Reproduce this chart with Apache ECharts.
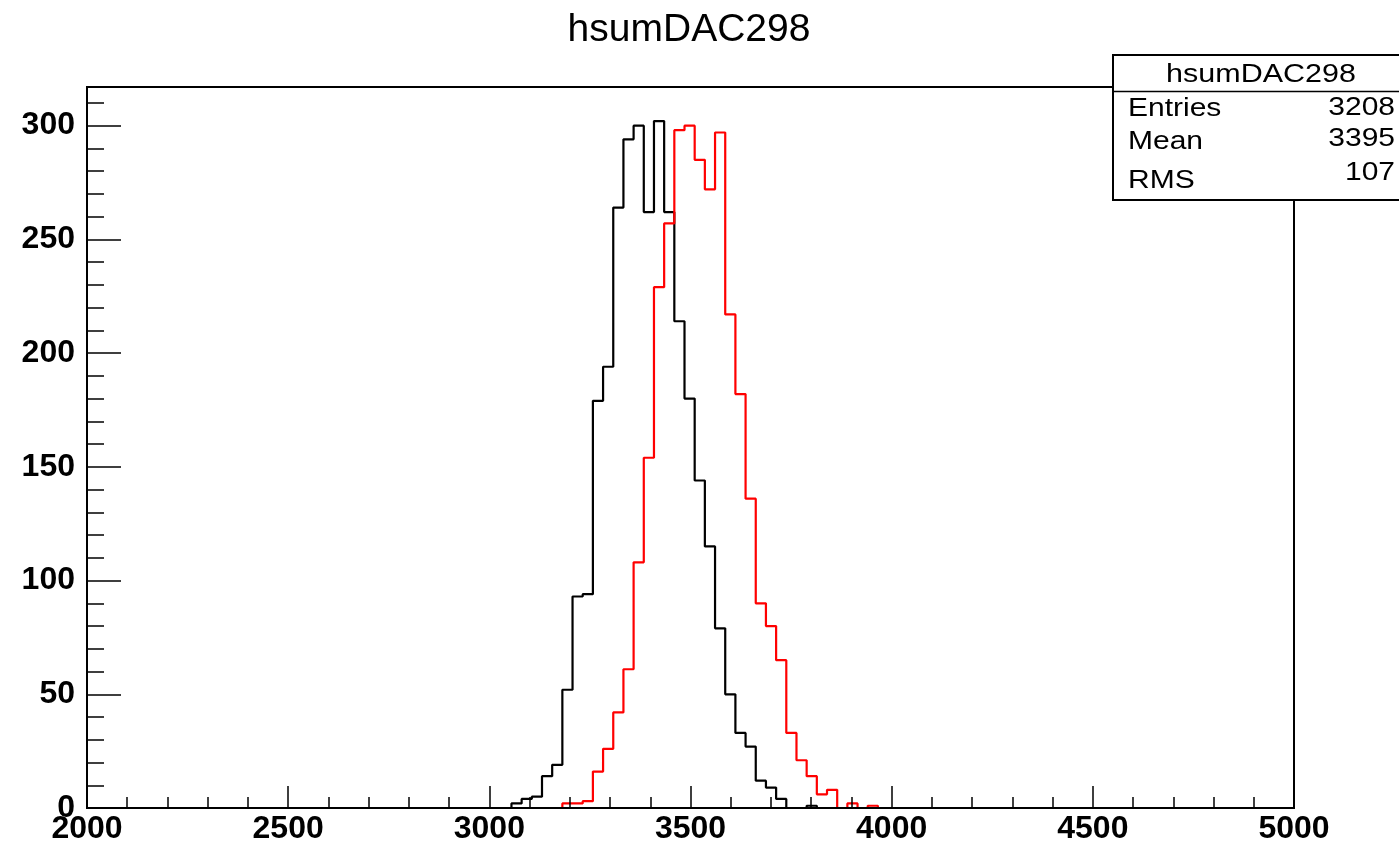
<!DOCTYPE html>
<html>
<head>
<meta charset="utf-8">
<script src="https://cdn.jsdelivr.net/npm/echarts@6/dist/echarts.min.js"></script>
<style>
  html, body { margin: 0; padding: 0; background: #fff; }
  #chart { width: 1399px; height: 845px; }
</style>
</head>
<body>
<div id="chart"></div>
<script>
// ---- data ----
const titleText = 'hsumDAC298';
const xRange = [2000, 5000];
const yMax = 317;
const binStart = 3055;      // lower edge of first non-empty black bin
const binWidth = 25.3;
const redRangeEnd = 4750;   // red histogram's zero line ends here
const blackFirstBin = 0;
const blackCounts = [2, 4, 5, 14, 19, 52, 93, 94, 179, 194, 264, 294, 300, 262, 302, 262,
  214, 180, 144, 115, 79, 50, 33, 27, 12, 9, 4, 0, 0, 1];
const redFirstBin = 5;
const redCounts = [2, 2, 3, 16, 26, 42, 61, 108, 154, 229, 257, 298, 300, 285, 272, 297,
  217, 182, 136, 90, 80, 65, 33, 21, 14, 6, 8, 0, 2, 0, 1];
const statLabels = ['Entries', 'Mean', 'RMS'];
const statValues = ['3208', '3395', '107'];

function histPoints(counts, firstBin, rangeStart, rangeEnd) {
  const first = binStart + firstBin * binWidth;
  const pts = [[rangeStart, 0], [first, 0]];
  counts.forEach((c, i) => {
    const lo = binStart + (firstBin + i) * binWidth;
    const hi = lo + binWidth;
    pts.push([lo, c], [hi, c]);
  });
  const last = binStart + (firstBin + counts.length) * binWidth;
  pts.push([last, 0], [rangeEnd, 0]);
  return pts;
}

const FONT = "'Liberation Sans', Arial, Helvetica, sans-serif";
const chart = echarts.init(document.getElementById('chart'), null, { renderer: 'canvas' });

const gridLeft = 87, gridRight = 105, gridTop = 87, gridBottom = 36;

const statsGraphics = [];
const boxX = 1113, boxY = 55, boxH = 145, sepY = 91.5;
statsGraphics.push({
  type: 'rect', z: 100, shape: { x: boxX, y: boxY, width: 320, height: boxH },
  style: { fill: '#fff', stroke: '#000', lineWidth: 2 }
});
statsGraphics.push({
  type: 'line', z: 101, shape: { x1: boxX, y1: sepY, x2: 1399, y2: sepY },
  style: { stroke: '#000', lineWidth: 1.5 }
});
statsGraphics.push({
  type: 'text', z: 102, x: 1261, y: 75, scaleX: 1.22,
  style: { text: titleText, font: '25px ' + FONT, fill: '#000', align: 'center', verticalAlign: 'middle' }
});
const labelYs = [109, 142, 181];
const valueYs = [108, 139, 173];
statLabels.forEach((t, i) => {
  statsGraphics.push({
    type: 'text', z: 102, x: 1128, y: labelYs[i], scaleX: 1.2,
    style: { text: t, font: '25px ' + FONT, fill: '#000', align: 'left', verticalAlign: 'middle' }
  });
  statsGraphics.push({
    type: 'text', z: 102, x: 1395, y: valueYs[i], scaleX: 1.2,
    style: { text: statValues[i], font: '25px ' + FONT, fill: '#000', align: 'right', verticalAlign: 'middle' }
  });
});
statsGraphics.push({
  type: 'text', z: 102, x: 689, y: 30,
  style: { text: titleText, font: '39px ' + FONT, fill: '#000', align: 'center', verticalAlign: 'middle' }
});

const option = {
  animation: false,
  backgroundColor: '#fff',
  grid: {
    left: gridLeft, right: gridRight, top: gridTop, bottom: gridBottom,
    show: true, borderColor: '#000', borderWidth: 2, backgroundColor: '#fff'
  },
  xAxis: {
    type: 'value', min: xRange[0], max: xRange[1], interval: 500, z: 5,
    axisLine: { show: true, onZero: false, lineStyle: { color: '#000', width: 2 } },
    axisTick: { show: true, inside: true, length: 22, lineStyle: { color: '#000', width: 1.5 } },
    minorTick: { show: true, splitNumber: 5, length: 11, lineStyle: { color: '#000', width: 1.5 } },
    splitLine: { show: false },
    axisLabel: { fontSize: 32, fontWeight: 'bold', fontFamily: FONT, color: '#000', margin: 5,
      formatter: v => String(v) }
  },
  yAxis: [{
    type: 'value', min: 0, max: yMax, interval: 50, z: 5,
    axisLine: { show: true, onZero: false, lineStyle: { color: '#000', width: 2 } },
    axisTick: { show: true, inside: true, length: 34, lineStyle: { color: '#000', width: 1.5 } },
    splitLine: { show: false },
    axisLabel: { fontSize: 32, fontWeight: 'bold', fontFamily: FONT, color: '#000', margin: 12,
      showMaxLabel: false, formatter: v => String(v) }
  }, {
    type: 'value', min: 0, max: yMax, interval: 10, position: 'left', offset: 0, z: 5,
    axisLine: { show: false },
    axisTick: { show: true, inside: true, length: 17, lineStyle: { color: '#000', width: 1.5 } },
    splitLine: { show: false },
    axisLabel: { show: false }
  }],
  series: [{
    type: 'line', name: 'black', yAxisIndex: 0, symbol: 'none', z: 2,
    lineStyle: { color: '#000', width: 2.2 },
    data: histPoints(blackCounts, blackFirstBin, xRange[0], xRange[1])
  }, {
    type: 'line', name: 'red', yAxisIndex: 0, symbol: 'none', z: 3,
    lineStyle: { color: '#ff0000', width: 2.2 },
    data: histPoints(redCounts, redFirstBin, xRange[0], redRangeEnd)
  }],
  graphic: statsGraphics
};
chart.setOption(option);
</script>
</body>
</html>
